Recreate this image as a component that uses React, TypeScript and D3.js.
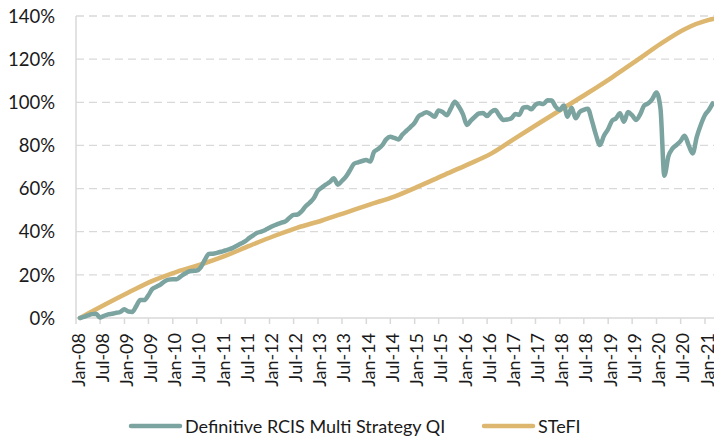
import { useEffect, useRef } from "react";
import * as d3 from "d3";

// axis labels
const tickLabels = [
  "Jan-08", "Jul-08", "Jan-09", "Jul-09", "Jan-10", "Jul-10", "Jan-11", "Jul-11",
  "Jan-12", "Jul-12", "Jan-13", "Jul-13", "Jan-14", "Jul-14", "Jan-15", "Jul-15",
  "Jan-16", "Jul-16", "Jan-17", "Jul-17", "Jan-18", "Jul-18", "Jan-19", "Jul-19",
  "Jan-20", "Jul-20", "Jan-21",
];
const yTicks = [0, 20, 40, 60, 80, 100, 120, 140];

// monthly cumulative return (%), Jan-08 .. Feb-21, month-end
const rcisValues = [
  0, 0.5, 1.2, 1.8, 2, 0.2, 1, 1.7, 2, 2.4, 2.8, 4,
  3, 2.8, 5.5, 8.3, 8.3, 10.5, 13.5, 14.5, 15.5, 17, 17.8, 18,
  18, 19.2, 20.5, 21.5, 21.8, 22, 23.5, 27, 29.7, 29.8, 30.2, 30.7,
  31.3, 31.8, 32.5, 33.5, 34.5, 35.5, 37, 38.3, 39.5, 40, 40.8, 41.8,
  42.8, 43.5, 44.2, 44.8, 46.5, 47.8, 48, 49.5, 51.8, 53.5, 55.5, 59,
  60.5, 61.8, 63, 64.8, 61.8, 63.5, 65.5, 68.5, 71.5, 72.2, 72.8, 73.2,
  72.5, 77, 78.3, 80, 82.8, 84, 83.5, 82.8, 85, 86.8, 88.5, 90.5,
  93.5, 94.5, 95.4, 94.5, 93.3, 96.2, 95.5, 94, 97, 100.3, 98, 94.5,
  89.5, 91.5, 93.3, 94.8, 95, 93.6, 95.5, 96.4, 94, 91.8, 92, 92.6,
  94.6, 94.2, 97.5, 97.8, 96.8, 98.8, 99.5, 99.2, 101, 100.8, 98, 96.4,
  98.5, 93.3, 97.5, 92.6, 95.5, 96.5, 97, 91.5, 85, 80.2, 84.5, 87.5,
  91.5, 92.5, 94.9, 91, 95.5, 94, 91.8, 94.5, 98.5, 99.5, 101.5, 104.5,
  97, 66, 75, 78.5, 80.2, 82, 84.5, 80, 76.3, 84, 89.5, 94,
  96.5, 99.5,
];

// STeFI cumulative return (%), read every six months
const stefiMonths = [
  0, 6, 12, 18, 24, 30, 36, 42, 48, 54, 60, 66, 72, 78, 84, 90, 96, 102, 108,
  114, 120, 126, 132, 138, 144, 150, 156, 157,
];
const stefiValues = [
  0, 6, 11.8, 17.2, 21.4, 24.8, 28.8, 33.4, 37.9, 41.9, 45.2, 48.9, 52.7, 56.3,
  61, 66, 71, 76.2, 83.4, 90.4, 97.4, 104.3, 111.6, 119.2, 127.1, 133.9, 138.2, 138.6,
];

const rcisColor = "#7BA39F";
const stefiColor = "#DDB76F";
const font = "Lato, 'Open Sans', sans-serif";

const App = () => {
  const svgRef = useRef(null);

  useEffect(() => {
    document.body.style.margin = "0";
    const svg = d3.select(svgRef.current);
    svg.selectAll("*").remove();

    const left = 76, right = 714, top = 16, bottom = 318;

    const x = d3
      .scaleTime()
      .domain([new Date(2008, 0, 1), new Date(2021, 0, 1)])
      .range([76, 705]);
    const y = d3.scaleLinear().domain([0, 140]).range([bottom, top]);

    const monthEnd = (i) => new Date(2008, i + 1, 0);

    svg.append("defs")
      .append("clipPath")
      .attr("id", "plot-clip")
      .append("rect")
      .attr("x", left)
      .attr("y", 0)
      .attr("width", right - left)
      .attr("height", bottom + 10);

    // gridlines
    svg.append("g")
      .selectAll("line")
      .data(yTicks.filter((d) => d > 0))
      .enter()
      .append("line")
      .attr("x1", left)
      .attr("x2", right)
      .attr("y1", (d) => y(d))
      .attr("y2", (d) => y(d))
      .attr("stroke", "#d9d9d9")
      .attr("stroke-width", 1.3)
      .attr("stroke-dasharray", "8,5");

    // axes lines
    svg.append("line")
      .attr("x1", left).attr("x2", left)
      .attr("y1", top).attr("y2", bottom)
      .attr("stroke", "#d9d9d9").attr("stroke-width", 1.5);
    svg.append("line")
      .attr("x1", left).attr("x2", right)
      .attr("y1", bottom).attr("y2", bottom)
      .attr("stroke", "#d9d9d9").attr("stroke-width", 1.5);

    // y labels
    svg.append("g")
      .selectAll("text")
      .data(yTicks)
      .enter()
      .append("text")
      .attr("x", 55)
      .attr("y", (d) => y(d))
      .attr("dy", "0.36em")
      .attr("text-anchor", "end")
      .attr("font-family", font)
      .attr("font-size", 18.5)
      .attr("fill", "#1a1a1a")
      .text((d) => `${d}%`);

    // x ticks + labels
    const tickDates = tickLabels.map((_, k) => new Date(2008, k * 6, 1));
    svg.append("g")
      .selectAll("line")
      .data(tickDates)
      .enter()
      .append("line")
      .attr("x1", (d) => x(d))
      .attr("x2", (d) => x(d))
      .attr("y1", bottom)
      .attr("y2", bottom + 6)
      .attr("stroke", "#d9d9d9")
      .attr("stroke-width", 1.5);

    svg.append("g")
      .selectAll("text")
      .data(tickLabels)
      .enter()
      .append("text")
      .attr("transform", (d, k) => `translate(${x(tickDates[k])},333) rotate(-90)`)
      .attr("dy", 8.5)
      .attr("text-anchor", "end")
      .attr("font-family", font)
      .attr("font-size", 18)
      .attr("fill", "#1a1a1a")
      .text((d) => d);

    // series
    const plot = svg.append("g").attr("clip-path", "url(#plot-clip)");

    const line = d3
      .line()
      .x((d) => x(monthEnd(d[0])))
      .y((d) => y(d[1]))
      .curve(d3.curveMonotoneX);

    plot.append("path")
      .datum(stefiMonths.map((m, k) => [m, stefiValues[k]]))
      .attr("fill", "none")
      .attr("stroke", stefiColor)
      .attr("stroke-width", 4.5)
      .attr("stroke-linecap", "round")
      .attr("d", line);

    plot.append("path")
      .datum(rcisValues.map((v, i) => [i, v]))
      .attr("fill", "none")
      .attr("stroke", rcisColor)
      .attr("stroke-width", 4.5)
      .attr("stroke-linejoin", "round")
      .attr("stroke-linecap", "round")
      .attr("d", line);

    // legend
    const legend = [
      { name: "Definitive RCIS Multi Strategy QI", color: rcisColor, x: 131 },
      { name: "STeFI", color: stefiColor, x: 484 },
    ];
    const lg = svg.append("g").selectAll("g").data(legend).enter().append("g");
    lg.append("line")
      .attr("x1", (d) => d.x)
      .attr("x2", (d) => d.x + 49)
      .attr("y1", 426)
      .attr("y2", 426)
      .attr("stroke", (d) => d.color)
      .attr("stroke-width", 4.5)
      .attr("stroke-linecap", "round");
    lg.append("text")
      .attr("x", (d) => d.x + 54)
      .attr("y", 432.5)
      .attr("font-family", font)
      .attr("font-size", 18)
      .attr("fill", "#1a1a1a")
      .text((d) => d.name);
  }, []);

  return <svg ref={svgRef} width={714} height={437} style={{ display: "block" }} />;
};

export default App;
